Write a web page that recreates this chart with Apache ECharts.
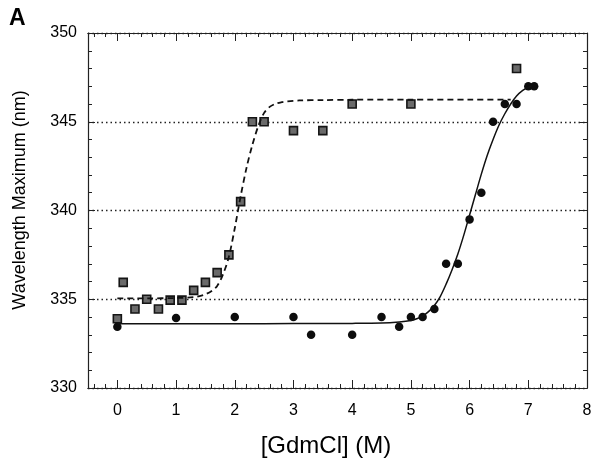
<!DOCTYPE html>
<html>
<head>
<meta charset="utf-8">
<script src="https://cdn.jsdelivr.net/npm/echarts@6/dist/echarts.min.js"></script>
<style>
  html, body { margin: 0; padding: 0; background: #fff; }
  #chart { width: 600px; height: 467px; }
</style>
</head>
<body>
<div id="chart"></div>
<script>
// tick labels
var xTicks = [0, 1, 2, 3, 4, 5, 6, 7, 8];
var yTicks = [330, 335, 340, 345, 350];

// squares (dashed fit)
var squareX = [0, 0.1, 0.3, 0.5, 0.7, 0.9, 1.1, 1.3, 1.5, 1.7, 1.9, 2.1, 2.3, 2.5, 3.0, 3.5, 4.0, 5.0, 6.8];
var squareY = [333.9, 335.95, 334.45, 335.0, 334.45, 334.95, 334.95, 335.5, 335.95, 336.5, 337.5, 340.5, 345.0, 345.0, 344.5, 344.5, 346.0, 346.0, 348.0];

// circles (solid fit)
var circleX = [0, 1, 2, 3, 3.3, 4, 4.5, 4.8, 5.0, 5.2, 5.4, 5.6, 5.8, 6.0, 6.2, 6.4, 6.6, 6.8, 7.0, 7.1];
var circleY = [333.45, 333.95, 334.0, 334.0, 333.0, 333.0, 334.0, 333.45, 334.0, 334.0, 334.45, 337.0, 337.0, 339.5, 341.0, 345.0, 346.0, 346.0, 347.0, 347.0];

// fitted curves
var dashX = [0, 0.5, 1.0, 1.3, 1.4, 1.5, 1.6, 1.7, 1.8, 1.9, 2.0, 2.1, 2.2, 2.3, 2.4, 2.5, 2.6, 2.7, 2.8, 2.9, 3.1, 3.5, 4.0, 5.0, 6.0, 6.7];
var dashY = [335.05, 335.05, 335.07, 335.12, 335.18, 335.28, 335.45, 335.75, 336.4, 337.4, 339.0, 340.8, 342.4, 343.7, 344.75, 345.5, 345.85, 346.02, 346.1, 346.15, 346.2, 346.22, 346.24, 346.25, 346.25, 346.25];
var solidX = [0, 1, 2, 3, 4, 4.5, 4.8, 5.0, 5.1, 5.2, 5.3, 5.4, 5.5, 5.6, 5.7, 5.8, 5.9, 6.0, 6.1, 6.2, 6.3, 6.4, 6.5, 6.6, 6.7, 6.8, 6.9, 7.0, 7.05];
var solidY = [333.62, 333.62, 333.62, 333.63, 333.64, 333.66, 333.72, 333.8, 333.9, 334.05, 334.3, 334.65, 335.15, 335.85, 336.65, 337.55, 338.6, 339.75, 340.9, 342.05, 343.1, 344.0, 344.8, 345.45, 346.0, 346.45, 346.75, 346.95, 347.0];

function pairs(xs, ys) {
  return xs.map(function (x, i) { return [x, ys[i]]; });
}

// minor ticks every 0.2 between the integers
var xMinor = [];
for (var k = -1; k < 8; k++) {
  [0.2, 0.4, 0.6, 0.8].forEach(function (f) {
    var v = Math.round((k + f) * 10) / 10;
    if (v > -0.5 && v < 8) xMinor.push(v);
  });
}

var FONT = '"Liberation Sans", Arial, sans-serif';
var INK = '#222';

function xAxisOf(pos, ticks, len, labels) {
  return {
    type: 'value', position: pos, min: -0.5, max: 8,
    axisLine: { show: true, onZero: false, lineStyle: { color: INK, width: 1.2 } },
    axisTick: { show: true, inside: true, length: len, customValues: ticks, lineStyle: { color: INK, width: 1 } },
    axisLabel: { show: labels, customValues: xTicks, margin: 15, fontSize: 16, color: '#000', fontFamily: FONT },
    splitLine: { show: false }
  };
}

function yAxisOf(pos, labels, split) {
  return {
    type: 'value', position: pos, min: yTicks[0], max: yTicks[yTicks.length - 1], interval: 5,
    axisLine: { show: true, onZero: false, lineStyle: { color: INK, width: 1.2 } },
    axisTick: { show: true, inside: true, length: 7, lineStyle: { color: INK, width: 1 } },
    minorTick: { show: true, splitNumber: 5, length: 4, lineStyle: { color: INK, width: 1 } },
    axisLabel: { show: labels, margin: 11, fontSize: 16, color: '#000', fontFamily: FONT },
    splitLine: { show: split, lineStyle: { color: '#222', width: 1.4, type: [1.5, 3] } }
  };
}

var chart = echarts.init(document.getElementById('chart'), null, { renderer: 'canvas' });
chart.setOption({
  animation: false,
  backgroundColor: '#fff',
  grid: { left: 88, right: 13, top: 33, bottom: 79 },
  xAxis: [
    xAxisOf('bottom', xTicks, 8, true),
    xAxisOf('bottom', xMinor, 4, false),
    xAxisOf('top', xTicks, 8, false),
    xAxisOf('top', xMinor, 4, false)
  ],
  yAxis: [
    yAxisOf('left', true, true),
    yAxisOf('right', false, false)
  ],
  graphic: [
    { type: 'text', left: 9, top: 7, style: { text: 'A', font: 'bold 23px ' + FONT, fill: '#000' } },
    { type: 'text', x: 20, y: 200, rotation: Math.PI / 2,
      style: { text: 'Wavelength Maximum (nm)', font: '18px ' + FONT, fill: '#000', align: 'center', verticalAlign: 'middle' } },
    { type: 'text', x: 326, y: 446,
      style: { text: '[GdmCl] (M)', font: '24px ' + FONT, fill: '#000', align: 'center', verticalAlign: 'middle' } }
  ],
  series: [
    {
      type: 'line', xAxisIndex: 0, yAxisIndex: 0, data: pairs(dashX, dashY),
      smooth: 0.3, symbol: 'none',
      lineStyle: { color: '#111', width: 1.8, type: [6, 4] }
    },
    {
      type: 'line', xAxisIndex: 0, yAxisIndex: 0, data: pairs(solidX, solidY),
      smooth: 0.3, symbol: 'none',
      lineStyle: { color: '#111', width: 1.5 }
    },
    {
      type: 'scatter', xAxisIndex: 0, yAxisIndex: 0, data: pairs(squareX, squareY),
      symbol: 'rect', symbolSize: 8,
      itemStyle: { color: '#6a6a6a', borderColor: '#151515', borderWidth: 1.6, opacity: 1 }
    },
    {
      type: 'scatter', xAxisIndex: 0, yAxisIndex: 0, data: pairs(circleX, circleY),
      symbol: 'circle', symbolSize: 8.5,
      itemStyle: { color: '#0d0d0d', opacity: 1 }
    }
  ]
});
</script>
</body>
</html>
